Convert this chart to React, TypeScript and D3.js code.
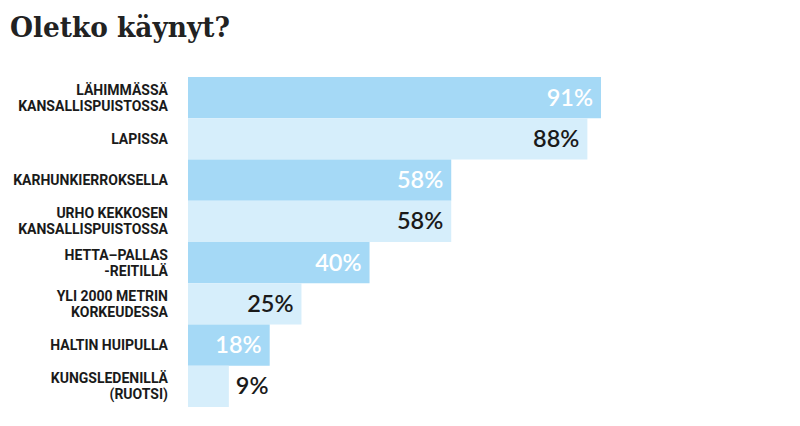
import * as d3 from 'd3'
import { useEffect, useRef } from "react";

const labels = [
  ["LÄHIMMÄSSÄ", "KANSALLISPUISTOSSA"],
  ["LAPISSA"],
  ["KARHUNKIERROKSELLA"],
  ["URHO KEKKOSEN", "KANSALLISPUISTOSSA"],
  ["HETTA–PALLAS", "-REITILLÄ"],
  ["YLI 2000 METRIN", "KORKEUDESSA"],
  ["HALTIN HUIPULLA"],
  ["KUNGSLEDENILLÄ", "(RUOTSI)"],
];
const values = [91, 88, 58, 58, 40, 25, 18, 9];

const W = 800, H = 426;

const App = () => {
  const svgRef = useRef(null);

  useEffect(() => {
    const svg = d3.select(svgRef.current);
    svg.selectAll('*').remove();

    const x = d3.scaleLinear().domain([0, 91]).range([188, 601]);
    const y = d3.scaleBand().domain(values.map((_, i) => String(i))).range([77, 407]).padding(0);

    svg.append('text')
      .attr('x', 10).attr('y', 37)
      .attr('font-family', '"DejaVu Serif", serif')
      .attr('font-weight', 'bold')
      .attr('font-size', 28)
      .attr('fill', '#222')
      .attr('textLength', 220)
      .attr('lengthAdjust', 'spacingAndGlyphs')
      .text('Oletko käynyt?');

    const rows = svg.selectAll('g.row').data(values).enter().append('g').attr('class', 'row');

    rows.append('rect')
      .attr('x', x(0))
      .attr('y', (_, i) => y(String(i)))
      .attr('width', d => x(d) - x(0))
      .attr('height', y.bandwidth())
      .attr('fill', (_, i) => i % 2 === 0 ? '#a5d9f6' : '#d6eefb');

    rows.append('text')
      .attr('x', d => d < 15 ? x(d) + 7 : x(d) - 8)
      .attr('y', (_, i) => y(String(i)) + y.bandwidth() / 2 + 8)
      .attr('text-anchor', d => d < 15 ? 'start' : 'end')
      .attr('font-family', 'Lato, sans-serif')
      .attr('font-weight', 600)
      .attr('font-size', 23.5)
      .attr('fill', (d, i) => i % 2 === 0 && d >= 15 ? '#fff' : '#1a1a1a')
      .text(d => d + '%');

    rows.each(function (_, i) {
      const lines = labels[i];
      const cy = y(String(i)) + y.bandwidth() / 2;
      const t = d3.select(this).append('text')
        .attr('text-anchor', 'end')
        .attr('font-family', 'Roboto, sans-serif')
        .attr('font-weight', 'bold')
        .attr('font-size', 14)
        .attr('fill', '#1a1a1a');
      lines.forEach((l, j) => {
        t.append('tspan')
          .attr('x', 168)
          .attr('y', cy + 5 + (j - (lines.length - 1) / 2) * 16)
          .text(l);
      });
    });
  }, []);

  return (
    <svg ref={svgRef} width={W} height={H}
      style={{ position: 'absolute', left: 0, top: 0, background: '#fff' }}>
    </svg>
  );
};

export default App;
